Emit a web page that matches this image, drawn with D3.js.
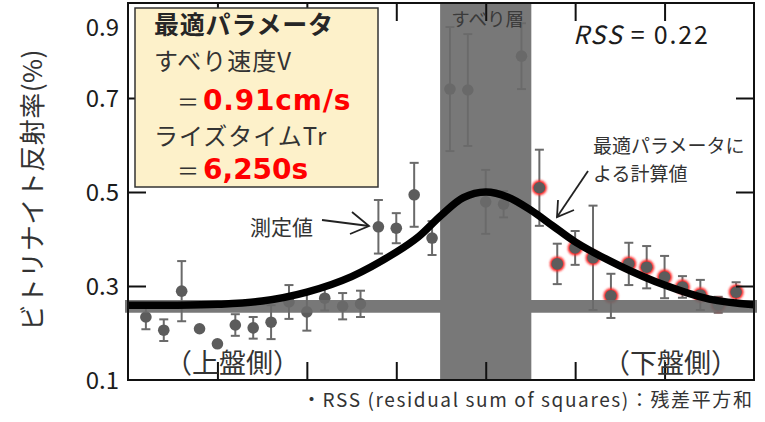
<!DOCTYPE html>
<html>
<head>
<meta charset="utf-8">
<script src="https://cdn.jsdelivr.net/npm/d3@7"></script>
<style>
  html, body { margin: 0; padding: 0; background: #fff; }
  svg { display: block; }
  text { font-family: "Noto Sans CJK JP", "Noto Sans", sans-serif; }
</style>
</head>
<body>
<div id="chart"></div>
<script>
// ---------- data ----------
const xVals = [-3.8,-3.6,-3.4,-3.2,-3.0,-2.8,-2.6,-2.4,-2.2,-2.0,-1.8,-1.6,-1.4,-1.2,-1.0,-0.8,-0.6,
               -0.4,-0.2,0.0,0.2,0.4,0.6,0.8,1.0,1.2,1.4,1.6,1.8,2.0,2.2,2.4,2.6,2.8];
const yVals = [0.234,0.206,0.289,0.209,0.177,0.217,0.211,0.223,0.266,0.245,0.274,0.257,0.262,0.426,0.423,0.494,0.402,
               0.719,0.717,0.479,0.474,0.789,0.509,0.347,0.381,0.360,0.279,0.347,0.340,0.319,0.298,0.281,0.260,0.287];
const errVals = [0.026,0.023,0.064,0.006,0.008,0.023,0.023,0.036,0.036,0.040,0.026,0.028,0.028,0.057,0.032,0.068,0.036,
                 0.132,0.119,0.068,0.028,0.070,0.081,0.043,0.036,0.111,0.047,0.045,0.045,0.045,0.023,0.032,0.017,0.021];
// fitted (calculated) curve
const curveX = [-4.0,-3.5,-3.0,-2.5,-2.0,-1.5,-1.0,-0.75,-0.5,-0.25,0.0,0.25,0.5,0.75,1.0,1.5,2.0,2.5,3.0];
const curveY = [0.259,0.259,0.261,0.268,0.287,0.320,0.372,0.405,0.450,0.488,0.500,0.489,0.462,0.428,0.394,0.343,0.302,0.272,0.260];
const slipZone = [-0.51, 0.51];     // すべり層
const baseBand = [0.243, 0.270];    // background level band
const yTicks = [0.1, 0.3, 0.5, 0.7, 0.9];
const yInnerTicks = [0.3, 0.5, 0.7];
const xTicks = [-3, -2, -1, 0, 1, 2];

// ---------- layout ----------
const W = 765, H = 422;
const svg = d3.select("#chart").append("svg").attr("width", W).attr("height", H);

const x = d3.scaleLinear().domain([-4, 3]).range([128, 754]);
const y = d3.scaleLinear().domain([0.1, 0.9]).range([380, 4]);

const defs = svg.append("defs");
const f = defs.append("filter").attr("id", "glow").attr("x", "-50%").attr("y", "-50%").attr("width", "200%").attr("height", "200%");
f.append("feGaussianBlur").attr("stdDeviation", 1.3);
const f2 = defs.append("filter").attr("id", "soft").attr("x", "-10%").attr("y", "-10%").attr("width", "120%").attr("height", "120%");
f2.append("feGaussianBlur").attr("stdDeviation", 0.6);

// ---------- data points ----------
const pts = xVals.map((v, i) => ({ x: v, y: yVals[i], e: errVals[i], red: v > slipZone[1] }));
const gP = svg.append("g");
const errColor = "#6a6a6a";
pts.forEach(d => {
  if (d.e > 0.01) {
    gP.append("line").attr("x1", x(d.x)).attr("x2", x(d.x)).attr("y1", y(d.y - d.e)).attr("y2", y(d.y + d.e))
      .attr("stroke", errColor).attr("stroke-width", 2);
    [d.y - d.e, d.y + d.e].forEach(v => {
      gP.append("line").attr("x1", x(d.x) - 4.5).attr("x2", x(d.x) + 4.5).attr("y1", y(v)).attr("y2", y(v))
        .attr("stroke", errColor).attr("stroke-width", 2);
    });
  }
});
pts.filter(d => d.red).forEach(d => {
  gP.append("circle").attr("cx", x(d.x)).attr("cy", y(d.y)).attr("r", 7.5)
    .attr("fill", "#ff2020").attr("filter", "url(#glow)");
});
pts.forEach(d => {
  gP.append("circle").attr("cx", x(d.x)).attr("cy", y(d.y)).attr("r", 5.8).attr("fill", "#5c5c5c");
});

// ---------- bands (drawn over the points, nearly opaque) ----------
const bandColor = "#6b6b6b", bandOp = 0.91;
const gB = svg.append("g").attr("fill", bandColor).attr("fill-opacity", bandOp);
const bandPath = d3.path();
const hx0 = 125, hx1 = 757, hy0 = y(baseBand[1]), hy1 = y(baseBand[0]);
const vx0 = x(slipZone[0]), vx1 = x(slipZone[1]), vy0 = 4, vy1 = 380;
bandPath.moveTo(vx0, vy0); bandPath.lineTo(vx1, vy0); bandPath.lineTo(vx1, hy0); bandPath.lineTo(hx1, hy0);
bandPath.lineTo(hx1, hy1); bandPath.lineTo(vx1, hy1); bandPath.lineTo(vx1, vy1); bandPath.lineTo(vx0, vy1);
bandPath.lineTo(vx0, hy1); bandPath.lineTo(hx0, hy1); bandPath.lineTo(hx0, hy0); bandPath.lineTo(vx0, hy0);
bandPath.closePath();
gB.append("path").attr("d", bandPath.toString());

// ---------- fitted curve ----------
const line = d3.line().x((d, i) => x(curveX[i])).y(d => y(d)).curve(d3.curveCatmullRom.alpha(0.5));
svg.append("path").attr("d", line(curveY)).attr("fill", "none").attr("stroke", "#000")
  .attr("stroke-width", 7.5).attr("stroke-linecap", "butt").attr("filter", "url(#soft)");

// ---------- frame & ticks ----------
const frame = svg.append("g").attr("stroke", "#111").attr("stroke-width", 2).attr("fill", "none");
frame.append("rect").attr("x", 128).attr("y", 3).attr("width", 626).attr("height", 377);

const tickStyle = g => { g.select(".domain").remove(); g.selectAll("line").attr("stroke", "#111").attr("stroke-width", 2); g.selectAll("text").remove(); };
svg.append("g").attr("transform", "translate(0,3)").call(d3.axisBottom(x).tickValues(xTicks).tickSize(18)).call(tickStyle);
svg.append("g").attr("transform", "translate(0,380)").call(d3.axisTop(x).tickValues(xTicks).tickSize(18)).call(tickStyle);
svg.append("g").attr("transform", "translate(128,0)").call(d3.axisRight(y).tickValues(yInnerTicks).tickSize(18)).call(tickStyle);
svg.append("g").attr("transform", "translate(754,0)").call(d3.axisLeft(y).tickValues(yInnerTicks).tickSize(18)).call(tickStyle);

// y tick labels
const yAx = svg.append("g").attr("transform", "translate(128,0)")
  .call(d3.axisLeft(y).tickValues(yTicks).tickSize(0).tickPadding(9).tickFormat(d3.format(".1f")));
yAx.select(".domain").remove();
yAx.selectAll("text").attr("font-family", "'Liberation Sans', Arial, sans-serif").attr("font-size", 24)
  .attr("fill", "#1c1c1c").attr("dy", "0.36em");
yAx.selectAll(".tick").filter(d => d === 0.9).select("text").attr("dy", "1.3em");

// y axis title
svg.append("text").attr("transform", "translate(42,190) rotate(-90)").attr("text-anchor", "middle")
  .attr("font-size", 26).attr("fill", "#333").attr("letter-spacing", 0.5).text("ビトリナイト反射率(%)");

// ---------- legend box ----------
const redFont = "'DejaVu Sans', Verdana, sans-serif";
svg.append("rect").attr("x", 135).attr("y", 8).attr("width", 243).attr("height", 179)
  .attr("fill", "#fdf1ca").attr("stroke", "#333").attr("stroke-width", 1.5);
svg.append("text").attr("x", 154).attr("y", 34).attr("font-size", 25).attr("font-weight", "bold")
  .attr("letter-spacing", 0.8).attr("fill", "#262626").text("最適パラメータ");
svg.append("text").attr("x", 154).attr("y", 70).attr("font-size", 24).attr("letter-spacing", 1)
  .attr("fill", "#333").text("すべり速度V");
const t1 = svg.append("text").attr("x", 177).attr("y", 110).attr("font-size", 22).attr("fill", "#333");
t1.append("tspan").text("＝");
t1.append("tspan").attr("dx", 4).attr("font-family", redFont).attr("font-size", 28).attr("font-weight", "bold")
  .attr("fill", "#ff0000").attr("letter-spacing", 0.8).text("0.91cm/s");
svg.append("text").attr("x", 154).attr("y", 145).attr("font-size", 24).attr("letter-spacing", 1)
  .attr("fill", "#333").text("ライズタイムTr");
const t2 = svg.append("text").attr("x", 177).attr("y", 179).attr("font-size", 22).attr("fill", "#333");
t2.append("tspan").text("＝");
t2.append("tspan").attr("dx", 4).attr("font-family", redFont).attr("font-size", 28).attr("font-weight", "bold")
  .attr("fill", "#ff0000").text("6,250s");

// ---------- annotations ----------
svg.append("text").attr("x", x(0) + 2).attr("y", 26).attr("text-anchor", "middle").attr("font-size", 18.5)
  .attr("fill", "#3a3a3a").text("すべり層");
const rss = svg.append("text").attr("x", 573).attr("y", 44).attr("font-family", "'Liberation Sans', Arial, sans-serif")
  .attr("font-size", 25).attr("fill", "#1c1c1c").attr("letter-spacing", 1.8);
rss.append("tspan").attr("font-style", "italic").text("RSS");
rss.append("tspan").text(" = 0.22");

svg.append("text").attr("x", 593).attr("y", 153).attr("font-size", 19).attr("fill", "#333").text("最適パラメータに");
svg.append("text").attr("x", 593).attr("y", 181).attr("font-size", 19).attr("fill", "#333").text("よる計算値");
// arrow to curve
const arr = svg.append("g").attr("stroke", "#222").attr("stroke-width", 1.8).attr("fill", "none");
arr.append("line").attr("x1", 588).attr("y1", 171).attr("x2", 557).attr("y2", 217);
arr.append("polyline").attr("points", "558,200 557,217 574,210");

svg.append("text").attr("x", 250).attr("y", 235).attr("font-size", 21).attr("fill", "#333").text("測定値");
const arr2 = svg.append("g").attr("stroke", "#222").attr("stroke-width", 1.8).attr("fill", "none");
arr2.append("line").attr("x1", 322).attr("y1", 220).attr("x2", 369).attr("y2", 226);
arr2.append("polyline").attr("points", "352,212 369,226 350,234");

svg.append("text").attr("x", 165).attr("y", 373).attr("font-size", 27).attr("fill", "#333").text("（上盤側）");
svg.append("text").attr("x", 603).attr("y", 373).attr("font-size", 27).attr("fill", "#333").text("（下盤側）");

svg.append("text").attr("x", 302).attr("y", 407).attr("font-size", 19).attr("fill", "#333")
  .attr("textLength", 450).attr("lengthAdjust", "spacing")
  .text("・RSS (residual sum of squares)：残差平方和");
</script>
</body>
</html>
